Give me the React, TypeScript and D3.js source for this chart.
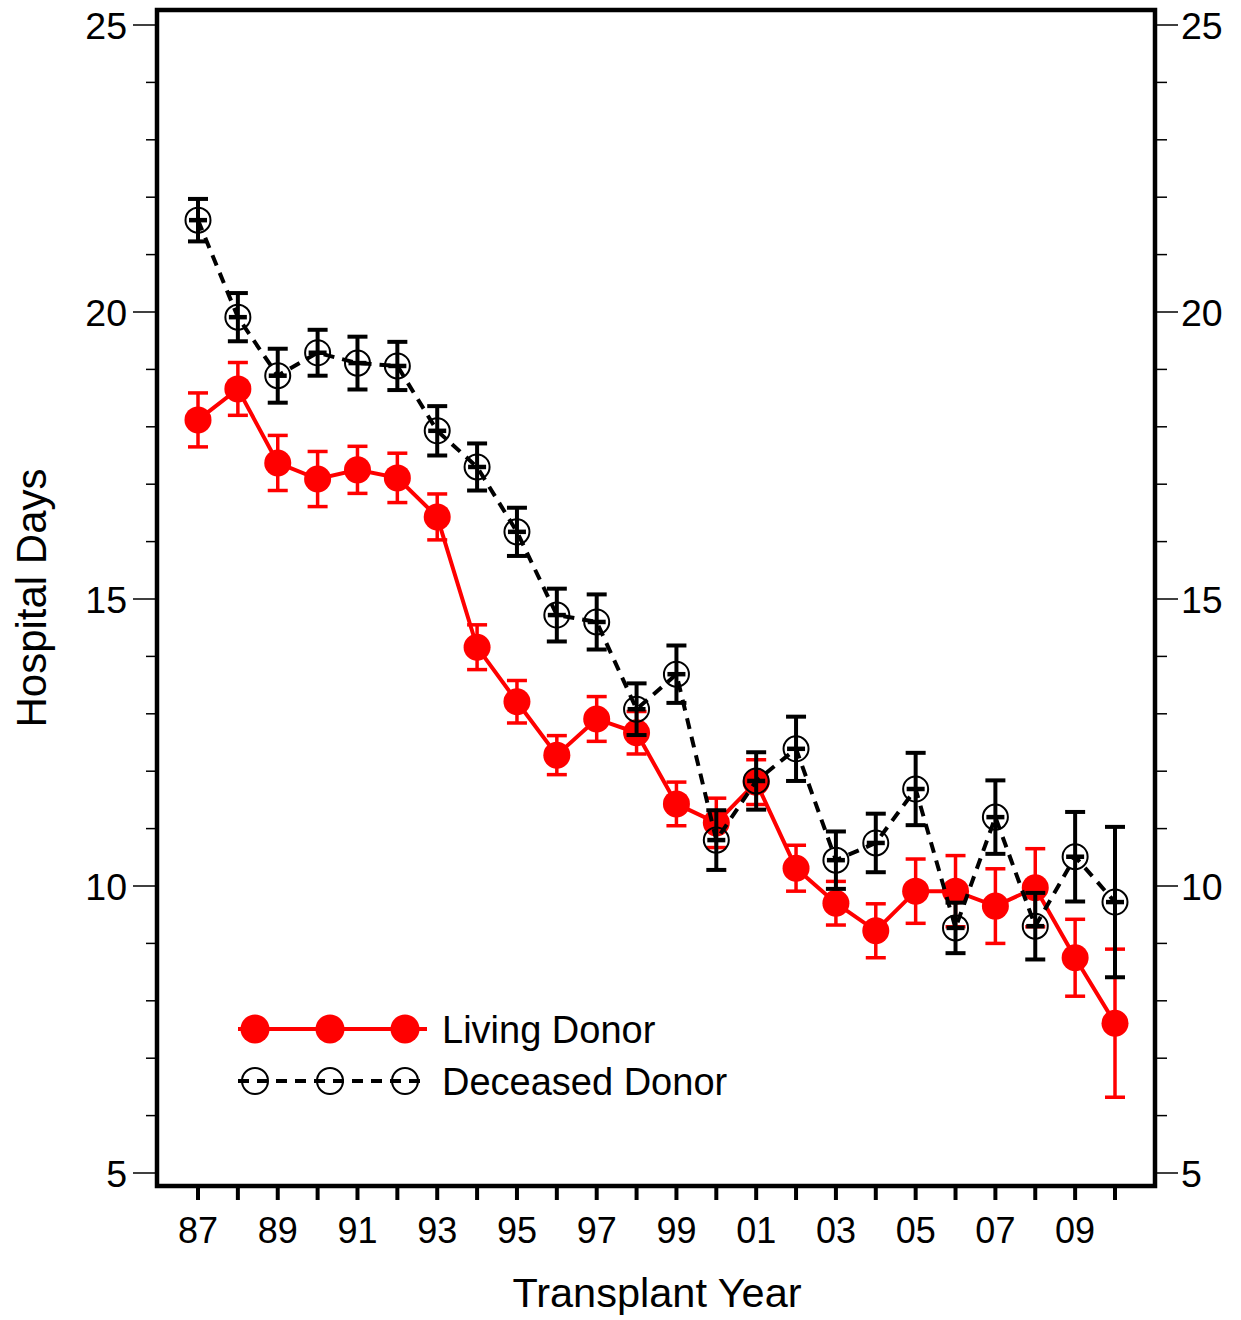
import React from "react";
import * as d3 from "d3";

const years = ["87","88","89","90","91","92","93","94","95","96","97","98","99","00","01","02","03","04","05","06","07","08","09","10"];
const yearLabels = ["87","89","91","93","95","97","99","01","03","05","07","09"];
const livingMean = [18.12, 18.66, 17.37, 17.09, 17.25, 17.11, 16.43, 14.16, 13.21, 12.28, 12.91, 12.67, 11.43, 11.10, 11.81, 10.31, 9.70, 9.22, 9.91, 9.91, 9.65, 9.97, 8.75, 7.61];
const livingErr = [0.47, 0.46, 0.48, 0.48, 0.41, 0.43, 0.40, 0.39, 0.37, 0.34, 0.39, 0.37, 0.38, 0.43, 0.39, 0.40, 0.38, 0.47, 0.56, 0.62, 0.65, 0.68, 0.67, 1.29];
const deceasedMean = [21.60, 19.91, 18.89, 19.29, 19.11, 19.06, 17.93, 17.30, 16.17, 14.72, 14.60, 13.08, 13.69, 10.80, 11.83, 12.39, 10.45, 10.75, 11.69, 9.27, 11.20, 9.30, 10.51, 9.72];
const deceasedErr = [0.37, 0.42, 0.47, 0.40, 0.46, 0.42, 0.43, 0.41, 0.42, 0.46, 0.48, 0.45, 0.50, 0.52, 0.50, 0.56, 0.50, 0.51, 0.63, 0.44, 0.64, 0.58, 0.78, 1.31];
const yMajor = [5, 10, 15, 20, 25];
const yMinor = d3.range(5, 26, 1);

const W = 1241, H = 1320;
const frame = { left: 157, right: 1155, top: 10, bottom: 1186 };
const FONT = "'Liberation Sans', Arial, sans-serif";

export default function App() {
  const x = d3.scalePoint<string>().domain(years).range([198, 1115]);
  const y = d3.scaleLinear().domain([5, 25]).range([1173, 25]);
  const line = d3.line<number>().x((_, i) => x(years[i])!).y((d) => y(d));

  const errBars = (mean: number[], err: number[], color: string, sw: number, center: boolean) =>
    mean.map((m, i) => {
      const cx = x(years[i])!;
      const y1 = y(m + err[i]);
      const y2 = y(m - err[i]);
      const cw = 10;
      return (
        <g key={i} stroke={color} strokeWidth={sw} fill="none">
          <line x1={cx} x2={cx} y1={y1} y2={y2} />
          <line x1={cx - cw} x2={cx + cw} y1={y1} y2={y1} />
          <line x1={cx - cw} x2={cx + cw} y1={y2} y2={y2} />
          {center && <line x1={cx - 9} x2={cx + 9} y1={y(m)} y2={y(m)} strokeWidth={4.5} />}
        </g>
      );
    });

  const legendX = [255, 330, 405];

  return (
    <svg width={W} height={H} style={{ display: "block", position: "absolute", left: 0, top: 0 }}>
      <rect width={W} height={H} fill="#fff" />
      {yMinor.map((v) => {
        const major = yMajor.includes(v);
        return (
          <g key={v} stroke="#000" strokeWidth={1.5}>
            <line x1={major ? 133 : 146} x2={frame.left} y1={y(v)} y2={y(v)} />
            <line x1={frame.right} x2={major ? 1178 : 1167} y1={y(v)} y2={y(v)} />
          </g>
        );
      })}
      {yMajor.map((v) => (
        <g key={v} fontFamily={FONT} fontSize={37.5} fill="#000">
          <text x={127} y={y(v)} dy="0.36em" textAnchor="end">{v}</text>
          <text x={1181} y={y(v)} dy="0.36em" textAnchor="start">{v}</text>
        </g>
      ))}
      {years.map((yr) => (
        <line key={yr} x1={x(yr)} x2={x(yr)} y1={frame.bottom} y2={1200} stroke="#000" strokeWidth={4} />
      ))}
      {yearLabels.map((yr) => (
        <text key={yr} x={x(yr)} y={1243} textAnchor="middle" fontFamily={FONT} fontSize={36}>{yr}</text>
      ))}
      <rect x={frame.left} y={frame.top} width={frame.right - frame.left} height={frame.bottom - frame.top}
        fill="none" stroke="#000" strokeWidth={4.5} />
      <text x={657} y={1307} textAnchor="middle" fontFamily={FONT} fontSize={41.5}>Transplant Year</text>
      <text transform="translate(46,598) rotate(-90)" textAnchor="middle" fontFamily={FONT} fontSize={42}>Hospital Days</text>

      {errBars(livingMean, livingErr, "#ff0000", 3.5, false)}
      <path d={line(livingMean) || ""} fill="none" stroke="#ff0000" strokeWidth={4} />
      {livingMean.map((m, i) => (
        <circle key={i} cx={x(years[i])} cy={y(m)} r={13.5} fill="#ff0000" />
      ))}

      <path d={line(deceasedMean) || ""} fill="none" stroke="#000" strokeWidth={4} strokeDasharray="11 8" />
      {errBars(deceasedMean, deceasedErr, "#000", 4, true)}
      {deceasedMean.map((m, i) => (
        <circle key={i} cx={x(years[i])} cy={y(m)} r={12.5} fill="none" stroke="#000" strokeWidth={2} />
      ))}

      <line x1={238} x2={427} y1={1029} y2={1029} stroke="#ff0000" strokeWidth={4} />
      {legendX.map((lx) => <circle key={lx} cx={lx} cy={1029} r={14.5} fill="#ff0000" />)}
      <text x={442} y={1029} dy="0.36em" fontFamily={FONT} fontSize={38}>Living Donor</text>
      <line x1={238} x2={427} y1={1081} y2={1081} stroke="#000" strokeWidth={4} strokeDasharray="11 8" />
      {legendX.map((lx) => <circle key={lx} cx={lx} cy={1081} r={13} fill="none" stroke="#000" strokeWidth={2} />)}
      <text x={442} y={1081} dy="0.36em" fontFamily={FONT} fontSize={38}>Deceased Donor</text>
    </svg>
  );
}
